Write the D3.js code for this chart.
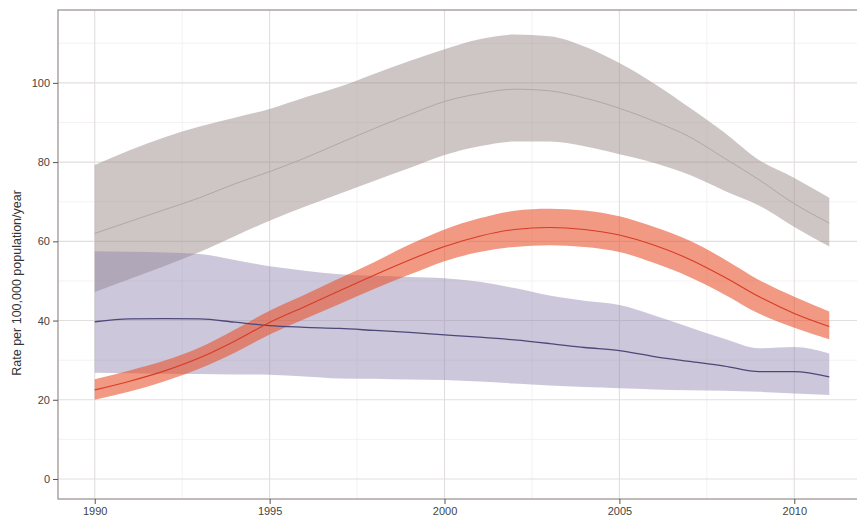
<!DOCTYPE html>
<html>
<head>
<meta charset="utf-8">
<script src="https://cdn.jsdelivr.net/npm/d3@7"></script>
<style>
  html, body { margin: 0; padding: 0; background: #fff; }
  svg { display: block; }
  text { font-family: "Liberation Sans", Arial, sans-serif; }
</style>
</head>
<body>
<svg id="chart" width="857" height="518"></svg>
<script>
// ---- data ----
const years = [1990,1991,1992,1993,1994,1995,1996,1997,1998,1999,2000,2001,2002,2003,2004,2005,2006,2007,2008,2009,2010,2011];

const grayMean  = [62,65,68,71,74.5,77.6,81,84.8,88.5,92,95.3,97.3,98.4,98,96.2,93.6,90.3,86.4,81,75.5,69.5,64.6];
const grayUpper = [79.3,83,86.3,89,91.2,93.4,96.3,99,102.3,105.5,108.5,111,112.2,111.8,109.2,105,99.8,93.8,87.5,80.5,76,71];
const grayLower = [47.2,50.5,53.8,57.3,61.3,65.2,68.7,72,75.3,78.5,81.8,84,85.2,85.2,84,82,79.8,76.8,72.8,69,63.6,58.7];

const redMean  = [22.5,24.7,27.3,30.6,34.8,39.5,43.5,47.5,51.5,55.3,58.7,61.3,63,63.5,63,61.6,59,55.5,51,46,41.8,38.5];
const redUpper = [25.2,27.4,29.9,33.2,37.7,42.5,46.5,50.7,54.8,59.2,63,65.8,67.7,68.2,67.8,66.3,63.6,60.2,55.5,50.2,46,42.3];
const redLower = [20,22.1,24.7,27.9,31.9,36.5,40.4,44.2,48,51.6,55,57.3,58.6,59,58.6,57.3,54.5,51,46.6,41.7,38.2,35.3];

const purMean  = [39.7,40.4,40.5,40.4,39.6,38.7,38.3,38,37.5,37,36.4,35.8,35.1,34.2,33.2,32.4,30.9,29.7,28.5,27.1,27.1,25.8];
const purUpper = [57.5,57.4,57.2,56.8,55.3,53.7,52.6,51.7,51.3,51,50.7,49.8,48.2,46.3,45,43.9,41.3,38.3,35.4,33,33.3,31.7];
const purLower = [26.8,26.7,26.6,26.5,26.4,26.3,25.9,25.4,25.3,25.1,25,24.6,24.1,23.6,23.2,22.9,22.6,22.4,22.3,22,21.6,21.2];

const xTicks = [1990,1995,2000,2005,2010];
const yTicks = [0,20,40,60,80,100];
const xMinor = [1992.5,1997.5,2002.5,2007.5];
const yMinor = [10,30,50,70,90,110];
const yTitle = "Rate per 100,000 population/year";

// ---- layout ----
const svg = d3.select("#chart");
const panel = {left: 58, top: 10, right: 866, bottom: 499};

const x = d3.scaleLinear().domain([1988.95, 2012.05]).range([panel.left, panel.right]);
const y = d3.scaleLinear().domain([-5.05, 118.4]).range([panel.bottom, panel.top]);

const g = svg.append("g");

// minor grid
g.selectAll(".vminor").data(xMinor).enter().append("line")
  .attr("x1", d => x(d)).attr("x2", d => x(d))
  .attr("y1", panel.top).attr("y2", panel.bottom)
  .attr("stroke", "#f1efef").attr("stroke-width", 0.8);
g.selectAll(".hminor").data(yMinor).enter().append("line")
  .attr("y1", d => y(d)).attr("y2", d => y(d))
  .attr("x1", panel.left).attr("x2", panel.right)
  .attr("stroke", "#f1efef").attr("stroke-width", 0.8);
// major grid
g.selectAll(".vmajor").data(xTicks).enter().append("line")
  .attr("x1", d => x(d)).attr("x2", d => x(d))
  .attr("y1", panel.top).attr("y2", panel.bottom)
  .attr("stroke", "#e3dede").attr("stroke-width", 1.1);
g.selectAll(".hmajor").data(yTicks).enter().append("line")
  .attr("y1", d => y(d)).attr("y2", d => y(d))
  .attr("x1", panel.left).attr("x2", panel.right)
  .attr("stroke", "#e3dede").attr("stroke-width", 1.1);

// ribbons
function rows(lo, hi, mid) { return years.map((yr, i) => ({yr, lo: lo[i], hi: hi[i], mid: mid[i]})); }
const area = d3.area().x(d => x(d.yr)).y0(d => y(d.lo)).y1(d => y(d.hi)).curve(d3.curveMonotoneX);
const line = d3.line().x(d => x(d.yr)).y(d => y(d.mid)).curve(d3.curveMonotoneX);

const series = [
  {data: rows(grayLower, grayUpper, grayMean), fill: "#9b8e8a", op: 0.5, stroke: "#b3a7a4", sw: 1},
  {data: rows(purLower, purUpper, purMean), fill: "#8f82ad", op: 0.45, stroke: "#4d4879", sw: 1.3},
  {data: rows(redLower, redUpper, redMean), fill: "#e8502a", op: 0.58, stroke: "#d83b26", sw: 1.1}
];

series.forEach(s => {
  g.append("path").datum(s.data).attr("d", area)
    .attr("fill", s.fill).attr("fill-opacity", s.op).attr("stroke", "none");
});
series.forEach(s => {
  g.append("path").datum(s.data).attr("d", line)
    .attr("fill", "none").attr("stroke", s.stroke).attr("stroke-width", s.sw);
});

// panel border
svg.append("rect")
  .attr("x", panel.left).attr("y", panel.top)
  .attr("width", panel.right - panel.left).attr("height", panel.bottom - panel.top)
  .attr("fill", "none").attr("stroke", "#9e9696").attr("stroke-width", 1.3);

// axes
const xAxis = d3.axisBottom(x).tickValues(xTicks).tickFormat(d3.format("d")).tickSize(5).tickPadding(3);
const yAxis = d3.axisLeft(y).tickValues(yTicks).tickFormat(d3.format("d")).tickSize(5).tickPadding(3);

const gx = svg.append("g").attr("transform", `translate(0,${panel.bottom})`).call(xAxis);
const gy = svg.append("g").attr("transform", `translate(${panel.left},0)`).call(yAxis);
[gx, gy].forEach(a => {
  a.select(".domain").remove();
  a.selectAll(".tick line").attr("stroke", "#555").attr("stroke-width", 1);
  a.selectAll(".tick text").attr("fill", "#444").attr("font-size", "11px")
    .attr("font-family", "'Liberation Sans', Arial, sans-serif");
});

svg.append("text")
  .attr("transform", `translate(18,${(y(0) + y(100)) / 2 + 2}) rotate(-90)`)
  .attr("text-anchor", "middle").attr("dominant-baseline", "middle")
  .attr("font-size", "12.5px").attr("fill", "#333")
  .text(yTitle);
</script>
</body>
</html>
